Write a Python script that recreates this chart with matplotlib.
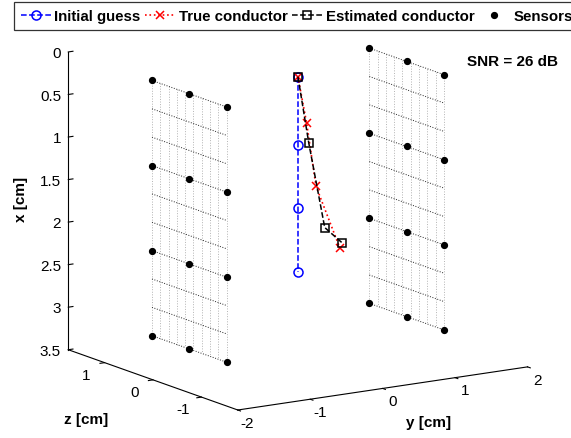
import numpy as np
import matplotlib
matplotlib.use("Agg")
import matplotlib.pyplot as plt
from matplotlib.lines import Line2D
from mpl_toolkits.mplot3d import proj3d

plt.rcParams['font.family'] = ['Liberation Sans', 'DejaVu Sans']
plt.rcParams['axes.unicode_minus'] = False

# sensor layout (two planes at constant y)
plane_y = [-1.5, 1.5]
sensor_x = [0.2, 1.2, 2.2, 3.2]
sensor_z = [0.77, 0.0, -0.77]

# conductor points (x = depth, y = lateral), all at z = 0
guess_x = [0.19, 0.99, 1.73, 2.48]
guess_y = [0.0, 0.0, 0.0, 0.0]
true_x = [0.19, 0.75, 1.51, 2.28]
true_y = [0.0, 0.12, 0.25, 0.58]
est_x = [0.19, 0.99, 2.01, 2.22]
est_y = [0.0, 0.15, 0.37, 0.61]

snr_db = 26

x_ticks = [0, 0.5, 1, 1.5, 2, 2.5, 3, 3.5]
x_ticklabels = ['0', '0.5', '1', '1.5', '2', '2.5', '3', '3.5']
y_ticks = [-2, -1, 0, 1, 2]
z_ticks = [-1, 0, 1]
xlim = (3.5, 0)
ylim = (-2, 2)
zlim = (-1.75, 1.75)

fig = plt.figure(figsize=(5.71, 4.39), dpi=100)
ax = fig.add_axes([0.012, 0.038, 1.0, 0.94], projection='3d', proj_type='ortho')
ax.view_init(elev=13.3, azim=-122.9)
ax.set_box_aspect((344, 311, 305), zoom=1.31)

# mpl x <- data y, mpl y <- data z, mpl z <- data x (pointing down)
def p3(xs, ys, zs, **kw):
    return ax.plot(ys, zs, xs, **kw)

# dotted mesh on each sensor plane
mesh_x = np.linspace(sensor_x[0], sensor_x[-1], 10)
mesh_z = np.linspace(sensor_z[0], sensor_z[-1], 10)
for py in plane_y:
    for mz in mesh_z:
        p3(mesh_x, [py] * len(mesh_x), [mz] * len(mesh_x),
           color='0.7', lw=0.7, ls=':')
    for mx in mesh_x:
        p3([mx] * len(mesh_z), [py] * len(mesh_z), mesh_z,
           color='0.15', lw=0.7, ls=':')

# sensors
for py in plane_y:
    sx, sz = np.meshgrid(sensor_x, sensor_z)
    p3(sx.ravel(), [py] * sx.size, sz.ravel(), ls='none', marker='o',
       ms=4.2, color='k')

zeros = [0.0] * 4
p3(guess_x, guess_y, zeros, color='b', ls='--', lw=1.1, marker='o',
   ms=6.5, mfc='none', mew=1.1)
p3(true_x, true_y, zeros, color='r', ls=':', lw=1.2, marker='x',
   ms=6, mew=1.1)
p3(est_x, est_y, zeros, color='k', ls='--', lw=1.1, marker='s',
   ms=5.5, mfc='none', mew=1.1)

ax.set_xlim(*ylim)
ax.set_ylim(*zlim)
ax.set_zlim(*xlim)
ax.set_xticks(y_ticks)
ax.set_yticks(z_ticks)
ax.set_zticks(x_ticks)
ax.set_xticklabels([])
ax.set_yticklabels([])
ax.set_zticklabels([])
ax.grid(False)
for a in (ax.xaxis, ax.yaxis, ax.zaxis):
    a.set_pane_color((1, 1, 1, 0))
    a.pane.set_edgecolor((1, 1, 1, 0))
    a.line.set_color('k')
    a.line.set_linewidth(0.8)
    a._axinfo['tick']['inward_factor'] = 0.2
    a._axinfo['tick']['outward_factor'] = 0.0
    a._axinfo['tick']['color'] = 'k'
ax.zaxis._axinfo['tick']['inward_factor'] = 0.0
ax.zaxis._axinfo['tick']['outward_factor'] = 0.2

# tick labels, MATLAB style placement (projected to 2D)
fig.canvas.draw()
M = ax.get_proj()

def t3(x, y, z, s, **kw):
    u, v, _ = proj3d.proj_transform(y, z, x, M)
    return ax.text2D(u, v, s, transform=ax.transData, fontsize=11, **kw)

for t in y_ticks:
    t3(xlim[0] + 0.11, t, zlim[0] - 0.2, '%g' % t, ha='center', va='center')
for t in z_ticks:
    t3(xlim[0] + 0.11, ylim[0] - 0.25, t, '%g' % t, ha='center', va='center')
for t, lab in zip(x_ticks, x_ticklabels):
    t3(t, ylim[0] - 0.1, zlim[1], lab, ha='right', va='center')

fig.text(0.036, 0.545, 'x [cm]', rotation=90, fontsize=11, weight='bold',
         ha='center', va='center')
fig.text(0.15, 0.043, 'z [cm]', fontsize=11, weight='bold',
         ha='center', va='center')
fig.text(0.75, 0.037, 'y [cm]', fontsize=11, weight='bold',
         ha='center', va='center')
fig.text(0.898, 0.858, 'SNR = %d dB' % snr_db, fontsize=11, weight='bold',
         ha='center', va='center')

handles = [
    Line2D([], [], color='b', ls='--', lw=1.1, marker='o', ms=6.5,
           mfc='none', mew=1.1),
    Line2D([], [], color='r', ls=':', lw=1.2, marker='x', ms=6, mew=1.1),
    Line2D([], [], color='k', ls='--', lw=1.1, marker='s', ms=5.5,
           mfc='none', mew=1.1),
    Line2D([], [], color='k', ls='none', marker='o', ms=4.2),
]
labels = ['Initial guess', 'True conductor', 'Estimated conductor', 'Sensors']
leg = fig.legend(handles, labels, loc='upper left',
                 bbox_to_anchor=(14 / 571, 1 - 3 / 439), ncol=4,
                 prop={'weight': 'bold', 'size': 10.8}, frameon=True,
                 fancybox=False, edgecolor='k', borderpad=0.45,
                 handlelength=2.0, handletextpad=0.25, columnspacing=0.3,
                 borderaxespad=0)
leg.get_frame().set_linewidth(0.9)

fig.savefig('out.png', dpi=100)
